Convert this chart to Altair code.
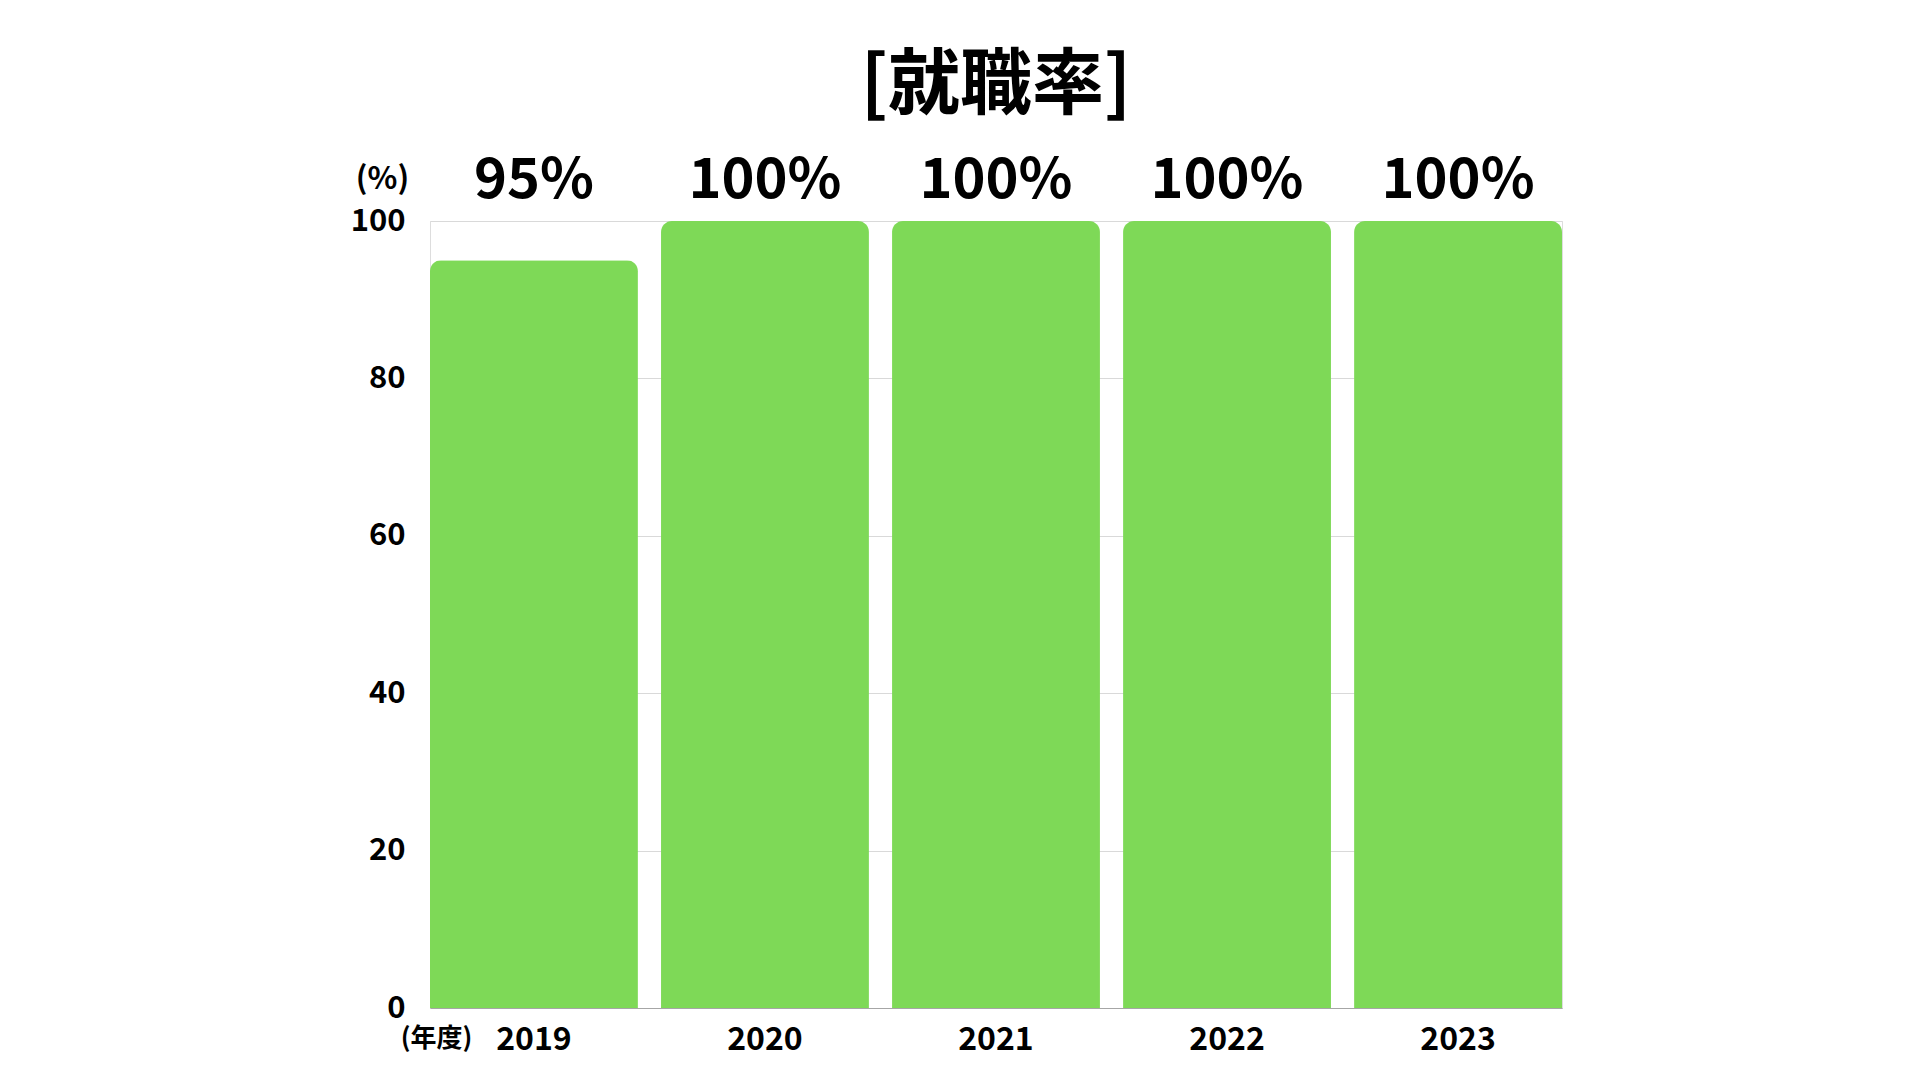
import altair as alt
import pandas as pd

years = ["2019", "2020", "2021", "2022", "2023"]
rates = [95, 100, 100, 100, 100]
labels = ["95%", "100%", "100%", "100%", "100%"]
y_ticks = [0, 20, 40, 60, 80, 100]

df = pd.DataFrame({"year": years, "rate": rates, "label": labels})

FONT = "Noto Sans CJK JP"
GREEN = "#7ED957"

x_enc = alt.X(
    "year:N",
    sort=years,
    scale=alt.Scale(paddingInner=0.1, paddingOuter=0),
    axis=alt.Axis(
        title="(年度)",
        titleFont=FONT,
        titleFontSize=26,
        titleFontWeight="bold",
        titleX=6,
        titleY=30,
        titleAlign="center",
        titleBaseline="middle",
        labelAngle=0,
        labelFont=FONT,
        labelFontSize=32,
        labelFontWeight="bold",
        labelColor="#000000",
        labelPadding=16,
        ticks=False,
        domain=True,
        domainColor="#a6a6a6",
        domainWidth=1,
        grid=False,
    ),
)

bars = alt.Chart(df).mark_bar(
    color=GREEN, cornerRadiusTopLeft=11, cornerRadiusTopRight=11
).encode(
    x=x_enc,
    y=alt.Y(
        "rate:Q",
        scale=alt.Scale(domain=[0, 100], nice=False),
        axis=alt.Axis(
            values=y_ticks,
            title="(%)",
            titleFont=FONT,
            titleFontSize=31,
            titleFontWeight="bold",
            titleAngle=0,
            titleX=-48,
            titleY=-42,
            titleAlign="center",
            titleBaseline="middle",
            labelFont=FONT,
            labelFontSize=31,
            labelFontWeight="bold",
            labelColor="#000000",
            labelPadding=25,
            ticks=False,
            domain=False,
            grid=True,
            gridColor="#d9d9d9",
            gridWidth=1,
        ),
    ),
)

texts = alt.Chart(df).mark_text(
    font=FONT, fontSize=56, fontWeight="bold", color="#000000",
    baseline="middle", align="center", dy=-40
).encode(
    x=alt.X("year:N", sort=years),
    y=alt.datum(100),
    text="label:N",
)

chart = alt.layer(bars, texts).properties(
    width=1132,
    height=787,
    title=alt.TitleParams(
        text="[就職率]",
        font=FONT,
        fontSize=72,
        fontWeight="bold",
        color="#000000",
        anchor="middle",
        offset=30,
    ),
    autosize=alt.AutoSizeParams(type="none"),
    padding={"left": 422, "top": 213, "right": 350, "bottom": 60},
).configure_view(stroke=None).configure(background="white")

chart.save("out.html", embed_options={"renderer": "svg", "actions": False})
